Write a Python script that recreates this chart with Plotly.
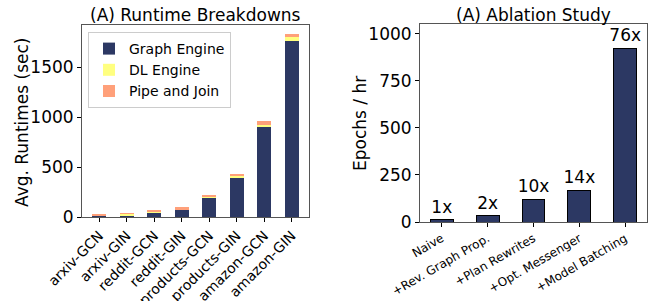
import plotly.graph_objects as go

# ---- data ----
datasets = ["arxiv-GCN", "arxiv-GIN", "reddit-GCN", "reddit-GIN",
            "products-GCN", "products-GIN", "amazon-GCN", "amazon-GIN"]
graph_engine = [10, 20, 50, 74, 194, 395, 907, 1760]
dl_engine = [8, 12, 3, 6, 7, 20, 20, 40]
pipe_join = [10, 8, 17, 20, 20, 20, 37, 38]

ablation_steps = ["Naive", "+Rev. Graph Prop.", "+Plan Rewrites",
                  "+Opt. Messenger", "+Model Batching"]
epochs_per_hr = [13, 32, 121, 170, 925]
speedup_labels = ["1x", "2x", "10x", "14x", "76x"]

NAVY = "#2c3863"
YELLOW = "#ffff80"
SALMON = "#ffa07a"
FONT = "DejaVu Sans"
W, H = 657, 301

fig = go.Figure()
fig.add_trace(go.Bar(x=datasets, y=graph_engine, name="Graph Engine",
                     marker=dict(color=NAVY, line=dict(width=0)),
                     xaxis="x", yaxis="y"))
fig.add_trace(go.Bar(x=datasets, y=dl_engine, name="DL Engine",
                     marker=dict(color=YELLOW, line=dict(width=0)),
                     xaxis="x", yaxis="y"))
fig.add_trace(go.Bar(x=datasets, y=pipe_join, name="Pipe and Join",
                     marker=dict(color=SALMON, line=dict(width=0)),
                     xaxis="x", yaxis="y"))
fig.add_trace(go.Bar(x=ablation_steps, y=epochs_per_hr, showlegend=False,
                     marker=dict(color=NAVY, line=dict(width=1, color="black")),
                     text=speedup_labels, textposition="outside",
                     textfont=dict(size=17, color="black", family=FONT),
                     constraintext="none", cliponaxis=False,
                     xaxis="x2", yaxis="y2"))

def px_dom_x(a, b):
    return [a / W, b / W]

def px_dom_y(top, bottom):
    return [(H - bottom) / H, (H - top) / H]

spine = dict(showline=True, linecolor="#555", linewidth=1, mirror=True,
             showgrid=False, zeroline=False, ticks="outside", ticklen=4,
             tickcolor="black", automargin=False)

fig.update_layout(
    width=W, height=H, margin=dict(l=0, r=0, t=0, b=0, autoexpand=False),
    paper_bgcolor="white", plot_bgcolor="white",
    font=dict(family=FONT, color="black"),
    barmode="stack", bargap=0.5,
    xaxis=dict(domain=px_dom_x(82, 309), anchor="y", range=[-0.625, 7.625],
               tickangle=-45, tickfont=dict(size=14), **spine),
    yaxis=dict(domain=px_dom_y(25, 217), anchor="x", range=[0, 1925],
               tickvals=[0, 500, 1000, 1500], tickfont=dict(size=17), **spine),
    xaxis2=dict(domain=px_dom_x(420, 647), anchor="y2", range=[-0.475, 4.475],
                tickangle=-30, tickfont=dict(size=12), **spine),
    yaxis2=dict(domain=px_dom_y(24, 222), anchor="x2", range=[0, 1053],
                tickvals=[0, 250, 500, 750, 1000], tickfont=dict(size=17), **spine),
    legend=dict(x=88 / W, y=(H - 32) / H, xanchor="left", yanchor="top",
                bgcolor="white", bordercolor="#cccccc", borderwidth=1,
                font=dict(size=14), traceorder="normal", tracegroupgap=0),
    annotations=[
        dict(text="(A) Runtime Breakdowns", x=195 / W, y=(H - 15) / H,
             xref="paper", yref="paper", showarrow=False,
             font=dict(size=17), xanchor="center", yanchor="middle"),
        dict(text="(A) Ablation Study", x=533 / W, y=(H - 15) / H,
             xref="paper", yref="paper", showarrow=False,
             font=dict(size=17), xanchor="center", yanchor="middle"),
        dict(text="Avg. Runtimes (sec)", x=22 / W, y=(H - 122) / H,
             xref="paper", yref="paper", showarrow=False, textangle=-90,
             font=dict(size=17), xanchor="center", yanchor="middle"),
        dict(text="Epochs / hr", x=360 / W, y=(H - 124) / H,
             xref="paper", yref="paper", showarrow=False, textangle=-90,
             font=dict(size=17), xanchor="center", yanchor="middle"),
    ],
)

fig.write_html("out.html",
               config={"displayModeBar": False},
               post_script="document.body.style.margin='0';document.body.style.overflow='hidden';")
